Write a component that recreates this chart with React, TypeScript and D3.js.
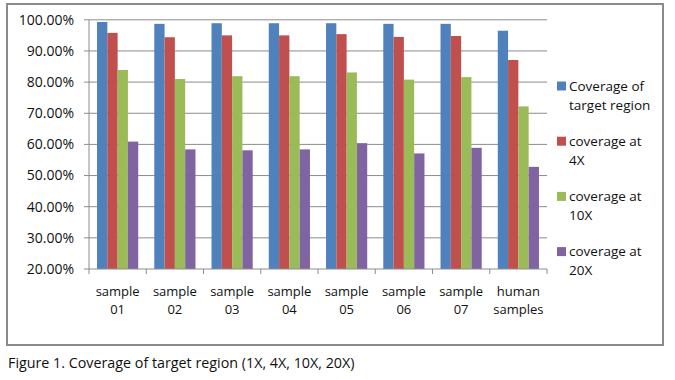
import React from "react";
import * as d3 from "d3";

const categories = [
  ["sample", "01"],
  ["sample", "02"],
  ["sample", "03"],
  ["sample", "04"],
  ["sample", "05"],
  ["sample", "06"],
  ["sample", "07"],
  ["human", "samples"],
];
const seriesNames = [
  ["Coverage of", "target region"],
  ["coverage at", "4X"],
  ["coverage at", "10X"],
  ["coverage at", "20X"],
];
const coverage1X = [99.3, 98.7, 98.9, 98.9, 98.9, 98.7, 98.7, 96.5];
const coverage4X = [95.8, 94.4, 95.0, 95.0, 95.4, 94.5, 94.8, 87.1];
const coverage10X = [83.9, 81.0, 81.9, 81.9, 83.1, 80.8, 81.6, 72.2];
const coverage20X = [60.9, 58.4, 58.1, 58.4, 60.4, 57.1, 58.9, 52.8];
const yTicks = [20, 30, 40, 50, 60, 70, 80, 90, 100];
const colors = ["#4F81BD", "#C0504D", "#9BBB59", "#8064A2"];
const caption = "Figure 1. Coverage of target region (1X, 4X, 10X, 20X)";

export default function App() {
  const series = [coverage1X, coverage4X, coverage10X, coverage20X];
  const left = 89, right = 547, top = 19.8, bottom = 269;
  const x = d3.scaleBand<number>().domain(d3.range(categories.length)).range([left, right]).paddingInner(0).paddingOuter(0);
  const inner = d3.scaleBand<number>().domain(d3.range(4)).range([0, x.bandwidth()]).paddingOuter(0.78).paddingInner(0);
  const y = d3.scaleLinear().domain([20, 100]).range([bottom, top]);
  const font = "'Open Sans', sans-serif";
  const grid = "#8C8C8C";
  return (
    <svg width={675} height={380} style={{ position: "absolute", left: 0, top: 0, background: "#fff" }}>
      <rect x={0} y={0} width={675} height={380} fill="#fff" />
      <rect x={7} y={4} width={656} height={341} fill="#fff" stroke="#8A8A8A" strokeWidth={2} />
      {yTicks.map((t) => (
        <g key={t}>
          {t > 20 && <line x1={left} x2={right} y1={y(t)} y2={y(t)} stroke={grid} strokeWidth={1} />}
          <line x1={left - 5} x2={left} y1={y(t)} y2={y(t)} stroke={grid} />
          <text x={left - 15} y={y(t)} dy="0.35em" textAnchor="end" fontFamily={font} fontSize={14} fill="#111">
            {t.toFixed(2)}%
          </text>
        </g>
      ))}
      {series.map((vals, si) =>
        vals.map((v, ci) => (
          <rect
            key={si + "-" + ci}
            x={(x(ci) as number) + (inner(si) as number)}
            y={y(v)}
            width={inner.bandwidth()}
            height={bottom - y(v)}
            fill={colors[si]}
          />
        ))
      )}
      <line x1={left} x2={left} y1={top} y2={bottom} stroke={grid} />
      <line x1={left} x2={right} y1={bottom} y2={bottom} stroke={grid} />
      {d3.range(categories.length + 1).map((i) => {
        const xx = left + i * x.step();
        return <line key={i} x1={xx} x2={xx} y1={bottom} y2={bottom + 5} stroke={grid} />;
      })}
      {categories.map((c, i) => (
        <text key={i} textAnchor="middle" fontFamily={font} fontSize={13} fill="#111">
          <tspan x={(x(i) as number) + x.bandwidth() / 2} y={295.5}>{c[0]}</tspan>
          <tspan x={(x(i) as number) + x.bandwidth() / 2} y={313.5}>{c[1]}</tspan>
        </text>
      ))}
      {seriesNames.map((s, i) => {
        const cy = 86 + i * 55.2;
        return (
          <g key={i}>
            <rect x={557} y={cy - 4.5} width={9} height={9} fill={colors[i]} />
            <text fontFamily={font} fontSize={13.5} fill="#111">
              <tspan x={569} y={cy + 4.5}>{s[0]}</tspan>
              <tspan x={569} y={cy + 23.5}>{s[1]}</tspan>
            </text>
          </g>
        );
      })}
      <text x={8} y={368} fontFamily={font} fontSize={14.3} fill="#111">{caption}</text>
    </svg>
  );
}
